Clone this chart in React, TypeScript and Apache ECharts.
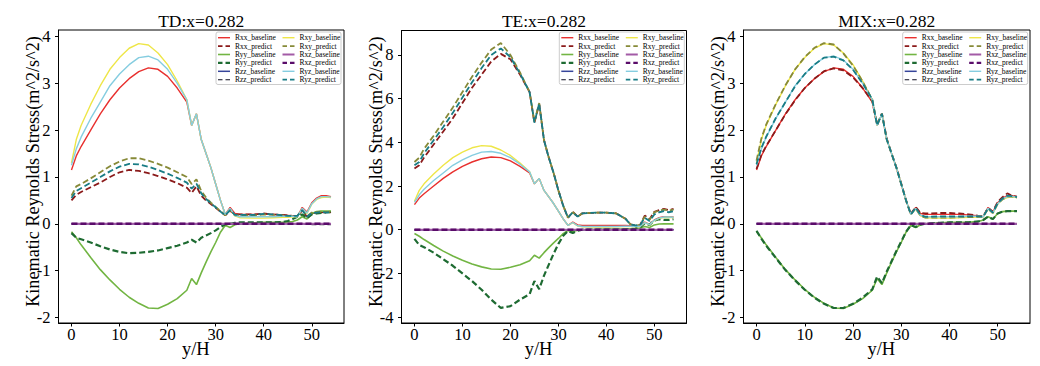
import React, { useEffect, useRef } from "react";
import * as echarts from "echarts";

// ---------- data ----------
const xPos = [0, 1, 2, 4, 6, 8, 10, 12, 14, 16, 18, 20, 22, 24,
  25, 26, 27, 28, 29, 30, 31, 32, 33, 34, 35,
  38, 40, 42, 44, 45, 46, 47, 48, 49, 50, 51, 52, 53, 54];

const zeroLine = [0, 0, 0, 0, 0, 0, 0, 0, 0, 0, 0, 0, 0, 0,
  0, 0, 0, 0, 0, 0, 0, 0, 0, 0, 0,
  0, 0, 0, 0, 0, 0, 0, 0, 0, 0, 0, 0, 0, 0];

// baselines (identical in the three panels)
const rxxBase = [1.15, 1.45, 1.65, 2.0, 2.35, 2.65, 2.9, 3.1, 3.25, 3.33, 3.3, 3.15, 2.9, 2.6,
  2.1, 2.35, 1.8, 1.5, 1.2, 0.85, 0.5, 0.2, 0.35, 0.22, 0.2,
  0.2, 0.2, 0.2, 0.19, 0.18, 0.17, 0.15, 0.35, 0.25, 0.45, 0.55, 0.6, 0.6, 0.58];
const rxyBase = [1.3, 1.8, 2.1, 2.55, 2.95, 3.3, 3.55, 3.75, 3.85, 3.82, 3.65, 3.4, 3.05, 2.65,
  2.1, 2.35, 1.8, 1.5, 1.2, 0.85, 0.5, 0.2, 0.32, 0.17, 0.13,
  0.12, 0.12, 0.13, 0.14, 0.14, 0.15, 0.15, 0.32, 0.22, 0.42, 0.52, 0.56, 0.57, 0.56];
const ryzBase = [1.25, 1.6, 1.85, 2.25, 2.6, 2.95, 3.2, 3.4, 3.55, 3.58, 3.5, 3.3, 3.0, 2.65,
  2.1, 2.35, 1.8, 1.5, 1.2, 0.85, 0.5, 0.2, 0.33, 0.18, 0.15,
  0.15, 0.15, 0.15, 0.16, 0.16, 0.16, 0.15, 0.33, 0.23, 0.43, 0.53, 0.58, 0.58, 0.57];
const ryyBase = [-0.17, -0.3, -0.45, -0.72, -0.98, -1.2, -1.4, -1.57, -1.7, -1.8, -1.81, -1.72, -1.6, -1.42,
  -1.17, -1.3, -1.05, -0.82, -0.6, -0.4, -0.18, -0.03, -0.08, -0.02, 0.0,
  0.02, 0.03, 0.03, 0.03, 0.04, 0.05, 0.08, 0.15, 0.1, 0.22, 0.26, 0.27, 0.27, 0.27];

// TD predictions
const rxxTD = [0.5, 0.62, 0.68, 0.78, 0.88, 1.0, 1.1, 1.15, 1.13, 1.08, 1.02, 0.95, 0.87, 0.77,
  0.66, 0.8, 0.6, 0.5, 0.42, 0.34, 0.26, 0.18, 0.28, 0.2, 0.2,
  0.2, 0.22, 0.2, 0.19, 0.18, 0.17, 0.17, 0.28, 0.15, 0.22, 0.24, 0.25, 0.24, 0.25];
const rxyTD = [0.6, 0.8, 0.85, 0.97, 1.1, 1.23, 1.33, 1.4, 1.4, 1.35, 1.28, 1.2, 1.1, 1.0,
  0.85, 0.95, 0.7, 0.56, 0.45, 0.36, 0.27, 0.18, 0.3, 0.18, 0.18,
  0.18, 0.2, 0.19, 0.18, 0.17, 0.17, 0.17, 0.3, 0.16, 0.24, 0.25, 0.26, 0.25, 0.26];
const ryzTD = [0.55, 0.7, 0.76, 0.88, 1.0, 1.12, 1.22, 1.28, 1.27, 1.22, 1.15, 1.07, 0.98, 0.88,
  0.75, 0.86, 0.65, 0.53, 0.44, 0.35, 0.26, 0.18, 0.29, 0.19, 0.19,
  0.19, 0.21, 0.2, 0.18, 0.17, 0.17, 0.17, 0.29, 0.15, 0.23, 0.24, 0.25, 0.24, 0.25];
const ryyTD = [-0.2, -0.3, -0.33, -0.4, -0.48, -0.55, -0.6, -0.63, -0.62, -0.6, -0.57, -0.52, -0.47, -0.4,
  -0.34, -0.4, -0.3, -0.25, -0.2, -0.14, -0.07, -0.01, 0.0, 0.02, 0.03,
  0.03, 0.03, 0.03, 0.04, 0.06, 0.1, 0.15, 0.2, 0.12, 0.2, 0.22, 0.23, 0.25, 0.25];
const rzzTD = [0, 0, 0, 0, 0, 0, 0, 0, 0, 0, 0, 0, 0, 0,
  0, 0, 0, 0, 0, 0, 0, 0, 0, 0, 0,
  0, 0, 0, 0, 0, 0, 0, 0, -0.01, -0.02, -0.02, -0.02, -0.02, -0.02];

// TE predictions
const rxxTE = [2.8, 2.95, 3.3, 3.9, 4.5, 5.1, 5.8, 6.5, 7.1, 7.7, 8.05, 7.8, 7.1, 6.3,
  4.9, 5.75, 4.1, 3.3, 2.6, 1.8, 1.1, 0.55, 0.82, 0.6, 0.75,
  0.78, 0.78, 0.75, 0.5, 0.25, 0.2, 0.2, 0.65, 0.48, 0.82, 0.9, 0.95, 0.9, 0.95];
const rxyTE = [3.1, 3.3, 3.7, 4.3, 4.95, 5.6, 6.3, 7.0, 7.65, 8.25, 8.55, 8.0, 7.2, 6.3,
  4.95, 5.8, 4.1, 3.3, 2.6, 1.8, 1.1, 0.55, 0.8, 0.6, 0.75,
  0.78, 0.78, 0.75, 0.5, 0.25, 0.2, 0.2, 0.6, 0.45, 0.8, 0.88, 0.92, 0.88, 0.92];
const ryzTE = [2.95, 3.1, 3.5, 4.1, 4.7, 5.35, 6.05, 6.75, 7.4, 8.0, 8.3, 7.9, 7.15, 6.3,
  4.9, 5.78, 4.1, 3.3, 2.6, 1.8, 1.1, 0.55, 0.8, 0.6, 0.75,
  0.78, 0.78, 0.75, 0.5, 0.25, 0.2, 0.2, 0.55, 0.4, 0.7, 0.8, 0.85, 0.8, 0.85];
const ryyTE = [-0.42, -0.7, -0.8, -1.05, -1.35, -1.65, -2.0, -2.35, -2.75, -3.2, -3.58, -3.5, -3.2, -2.95,
  -2.35, -2.72, -2.1, -1.6, -1.1, -0.65, -0.28, -0.06, -0.15, -0.05, 0.0,
  0.0, 0.0, 0.0, 0.02, 0.03, 0.05, 0.1, 0.3, 0.22, 0.42, 0.48, 0.45, 0.45, 0.48];

// MIX predictions
const rxxMIX = [1.17, 1.47, 1.66, 2.0, 2.34, 2.64, 2.9, 3.1, 3.26, 3.32, 3.28, 3.13, 2.9, 2.62,
  2.12, 2.36, 1.82, 1.5, 1.2, 0.86, 0.5, 0.21, 0.36, 0.23, 0.22,
  0.23, 0.23, 0.22, 0.2, 0.19, 0.17, 0.16, 0.34, 0.26, 0.47, 0.57, 0.65, 0.6, 0.58];
const rxyMIX = [1.35, 1.82, 2.12, 2.56, 2.96, 3.3, 3.56, 3.76, 3.86, 3.83, 3.64, 3.38, 3.04, 2.65,
  2.12, 2.35, 1.8, 1.5, 1.2, 0.85, 0.5, 0.2, 0.33, 0.17, 0.13,
  0.13, 0.13, 0.14, 0.14, 0.14, 0.15, 0.15, 0.32, 0.23, 0.43, 0.52, 0.58, 0.58, 0.56];
const ryzMIX = [1.27, 1.62, 1.86, 2.26, 2.6, 2.94, 3.2, 3.4, 3.55, 3.57, 3.49, 3.29, 3.0, 2.66,
  2.1, 2.35, 1.8, 1.5, 1.2, 0.85, 0.5, 0.2, 0.34, 0.19, 0.15,
  0.16, 0.16, 0.16, 0.16, 0.16, 0.16, 0.15, 0.33, 0.24, 0.44, 0.54, 0.6, 0.59, 0.57];
const ryyMIX = [-0.15, -0.32, -0.47, -0.73, -0.99, -1.21, -1.41, -1.58, -1.71, -1.8, -1.8, -1.71, -1.58, -1.4,
  -1.13, -1.27, -1.02, -0.8, -0.58, -0.38, -0.17, -0.03, -0.07, -0.02, 0.0,
  0.02, 0.03, 0.03, 0.03, 0.04, 0.05, 0.08, 0.15, 0.1, 0.22, 0.26, 0.27, 0.27, 0.27];

const xTicks = [0, 10, 20, 30, 40, 50];
const yTicksSmall = [-2, -1, 0, 1, 2, 3, 4];
const yTicksLarge = [-4, -2, 0, 2, 4, 6, 8];

const seriesNames = [
  "Rxx_baseline", "Rxx_predict", "Ryy_baseline", "Ryy_predict", "Rzz_baseline", "Rzz_predict",
  "Rxy_baseline", "Rxy_predict", "Rxz_baseline", "Rxz_predict", "Ryz_baseline", "Ryz_predict",
];

const panelTitles = ["TD:x=0.282", "TE:x=0.282", "MIX:x=0.282"];

const panelData: Record<string, number[]>[] = [
  {
    Rxx_baseline: rxxBase, Rxx_predict: rxxTD, Ryy_baseline: ryyBase, Ryy_predict: ryyTD,
    Rzz_baseline: zeroLine, Rzz_predict: rzzTD, Rxy_baseline: rxyBase, Rxy_predict: rxyTD,
    Rxz_baseline: zeroLine, Rxz_predict: zeroLine, Ryz_baseline: ryzBase, Ryz_predict: ryzTD,
  },
  {
    Rxx_baseline: rxxBase, Rxx_predict: rxxTE, Ryy_baseline: ryyBase, Ryy_predict: ryyTE,
    Rzz_baseline: zeroLine, Rzz_predict: zeroLine, Rxy_baseline: rxyBase, Rxy_predict: rxyTE,
    Rxz_baseline: zeroLine, Rxz_predict: zeroLine, Ryz_baseline: ryzBase, Ryz_predict: ryzTE,
  },
  {
    Rxx_baseline: rxxBase, Rxx_predict: rxxMIX, Ryy_baseline: ryyBase, Ryy_predict: ryyMIX,
    Rzz_baseline: zeroLine, Rzz_predict: zeroLine, Rxy_baseline: rxyBase, Rxy_predict: rxyMIX,
    Rxz_baseline: zeroLine, Rxz_predict: zeroLine, Ryz_baseline: ryzBase, Ryz_predict: ryzMIX,
  },
];

// ---------- styles / layout ----------
const FONT = "'Liberation Serif', 'Times New Roman', serif";

const lineStyles: Record<string, { color: string; width: number; dashed: boolean; dash?: number[] }> = {
  Rxx_baseline: { color: "#e8302e", width: 1.4, dashed: false },
  Rxx_predict: { color: "#8b1a1a", width: 1.8, dashed: true, dash: [6, 3] },
  Ryy_baseline: { color: "#72b543", width: 1.6, dashed: false },
  Ryy_predict: { color: "#1e6b32", width: 2.2, dashed: true, dash: [6, 3] },
  Rzz_baseline: { color: "#36459a", width: 1.5, dashed: false },
  Rzz_predict: { color: "#111122", width: 1, dashed: true, dash: [5, 3] },
  Rxy_baseline: { color: "#eee648", width: 1.4, dashed: false },
  Rxy_predict: { color: "#878a38", width: 1.8, dashed: true, dash: [6, 3] },
  Rxz_baseline: { color: "#a35ba6", width: 2, dashed: false },
  Rxz_predict: { color: "#5a0c6a", width: 2.4, dashed: true, dash: [6, 3] },
  Ryz_baseline: { color: "#85cde0", width: 1.4, dashed: false },
  Ryz_predict: { color: "#197c85", width: 1.8, dashed: true, dash: [6, 3] },
};

const grids = [
  { left: 58.5, top: 30, width: 285.5, height: 293 },
  { left: 401.5, top: 30.5, width: 285, height: 292.5 },
  { left: 743.5, top: 30, width: 286.5, height: 293 },
];
const yRanges = [
  { min: -2.12, max: 4.14, ticks: yTicksSmall },
  { min: -4.27, max: 9.12, ticks: yTicksLarge },
  { min: -2.12, max: 4.14, ticks: yTicksSmall },
];
const legendBoxLeft = [216, 559.3, 902.7];
const LEGEND_TOP = 32;
const LEGEND_W = 125;
const LEGEND_H = 52.5;

function legendIcon(name: string): string {
  const st = lineStyles[name];
  const h = (st.width * 2).toFixed(2);
  if (!st.dashed) return `path://M0 0H24V${h}H0Z`;
  return `path://M0 0H9V${h}H0Z M15 0H24V${h}H15Z`;
}

export default function App() {
  const ref = useRef<HTMLDivElement>(null);
  useEffect(() => {
    if (!ref.current) return;
    const chart = echarts.init(ref.current, undefined, { renderer: "svg" });

    const series: any[] = [];
    panelData.forEach((pd, p) => {
      seriesNames.forEach((name) => {
        const st = lineStyles[name];
        const vals = pd[name];
        series.push({
          type: "line",
          name,
          xAxisIndex: p,
          yAxisIndex: p,
          symbol: "none",
          showSymbol: false,
          silent: true,
          z: 2,
          data: xPos.map((x, i) => [x, vals[i]]),
          lineStyle: { color: st.color, width: st.width, type: st.dashed ? st.dash : "solid" },
          itemStyle: { color: st.color },
        });
      });
    });

    const legends: any[] = [];
    legendBoxLeft.forEach((bl) => {
      [0, 1].forEach((col) => {
        legends.push({
          orient: "vertical",
          left: bl + 2 + col * 64.5,
          top: LEGEND_TOP + 1.7,
          itemWidth: 12,
          itemHeight: 5,
          itemGap: 0.4,
          padding: 0,
          z: 6,
          selectedMode: false,
          symbolKeepAspect: true,
          data: seriesNames.slice(col * 6, col * 6 + 6).map((n) => ({
            name: n,
            icon: legendIcon(n),
            itemStyle: { color: lineStyles[n].color, borderWidth: 0 },
          })),
          textStyle: { fontFamily: FONT, fontSize: 7.5, color: "#000" },
        });
      });
    });

    const graphics: any[] = [];
    grids.forEach((g, i) => {
      graphics.push({
        type: "text",
        x: g.left + g.width / 2,
        y: 21,
        style: {
          text: panelTitles[i],
          textAlign: "center",
          textVerticalAlign: "middle",
          fontFamily: FONT,
          fontSize: 17.5,
          fill: "#000",
        },
      });
      graphics.push({
        type: "rect",
        z: 5,
        shape: { x: legendBoxLeft[i], y: LEGEND_TOP, width: LEGEND_W, height: LEGEND_H, r: 2 },
        style: { fill: "rgba(255,255,255,0.85)", stroke: "#cccccc", lineWidth: 1 },
      });
    });

    const option: any = {
      animation: false,
      backgroundColor: "#fff",
      grid: grids.map((g) => ({
        ...g,
        show: true,
        borderColor: "#000",
        borderWidth: 1,
        backgroundColor: "transparent",
        containLabel: false,
        outerBoundsMode: "none",
      })),
      xAxis: grids.map((_, i) => ({
        type: "value",
        gridIndex: i,
        min: -2.7,
        max: 56.7,
        name: "y/H",
        nameLocation: "middle",
        nameGap: 19,
        nameMoveOverlap: false,
        nameTextStyle: { fontFamily: FONT, fontSize: 18.5, lineHeight: 14, color: "#000", padding: [0, 11, 0, 0] },
        axisLine: { show: true, onZero: false, lineStyle: { color: "#000", width: 1 } },
        axisTick: { show: true, inside: false, length: 3.5, customValues: xTicks, lineStyle: { color: "#000" } },
        axisLabel: { customValues: xTicks, fontFamily: FONT, fontSize: 16.5, lineHeight: 14, color: "#000", margin: 4 },
        splitLine: { show: false },
      })),
      yAxis: grids.map((_, i) => ({
        type: "value",
        gridIndex: i,
        min: yRanges[i].min,
        max: yRanges[i].max,
        name: "Kinematic Reynolds Stress(m^2/s^2)",
        nameLocation: "middle",
        nameGap: 17,
        nameMoveOverlap: false,
        nameTextStyle: { fontFamily: FONT, fontSize: 18.2, color: "#000", padding: [0, 0, 0, 10] },
        axisLine: { show: true, onZero: false, lineStyle: { color: "#000", width: 1 } },
        axisTick: { show: true, inside: false, length: 3.5, customValues: yRanges[i].ticks, lineStyle: { color: "#000" } },
        axisLabel: { customValues: yRanges[i].ticks, fontFamily: FONT, fontSize: 16.5, color: "#000", margin: 8 },
        splitLine: { show: false },
      })),
      legend: legends,
      graphic: { elements: graphics },
      series,
    };

    chart.setOption(option);
    return () => chart.dispose();
  }, []);

  return (
    <div
      ref={ref}
      style={{ position: "absolute", left: 0, top: 0, width: 1040, height: 366 }}
    />
  );
}
